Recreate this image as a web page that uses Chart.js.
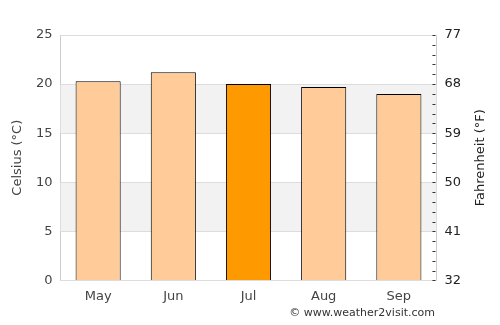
<!DOCTYPE html>
<html>
<head>
<meta charset="utf-8">
<script src="https://cdn.jsdelivr.net/npm/chart.js@4"></script>
<style>
  html, body { margin: 0; padding: 0; background: #fff; }
  #wrap { width: 500px; height: 325px; }
</style>
</head>
<body>
<div id="wrap"><canvas id="canvas" width="500" height="325"></canvas></div>
<script>
// monthly average temperature (°C)
const months = ["May", "Jun", "Jul", "Aug", "Sep"];
const tempC = [20.3, 21.2, 20.0, 19.7, 19.0];
const barColors = ["#ffcc99", "#ffcc99", "#ff9900", "#ffcc99", "#ffcc99"];
const celsiusTicks = [0, 5, 10, 15, 20, 25];
const fahrenheitLabels = [32, 41, 50, 59, 68, 77];

const tickFont = { family: "DejaVu Sans", size: 13 };

// grey bands, inner tick marks, rotated titles, footer
const extrasPlugin = {
  id: "extras",
  beforeDatasetsDraw(chart) {
    const c = chart.ctx, area = chart.chartArea, y = chart.scales.y;
    c.save();
    c.fillStyle = "#f2f2f2";
    [[5, 10], [15, 20]].forEach(function(b) {
      const top = y.getPixelForValue(b[1]);
      const bot = y.getPixelForValue(b[0]);
      c.fillRect(area.left, top, area.right - area.left, bot - top);
    });
    c.strokeStyle = "#dddddd";
    c.lineWidth = 1;
    celsiusTicks.forEach(function(v) {
      const py = Math.round(y.getPixelForValue(v)) + 0.5;
      c.beginPath();
      c.moveTo(area.left, py);
      c.lineTo(area.right, py);
      c.stroke();
    });
    c.restore();
  },
  afterDraw(chart) {
    const c = chart.ctx, area = chart.chartArea, y2 = chart.scales.y2;
    c.save();
    // small tick marks inside the right edge
    c.strokeStyle = "#333";
    c.lineWidth = 1;
    y2.ticks.forEach(function(t) {
      const py = Math.round(y2.getPixelForValue(t.value)) + 0.5;
      c.beginPath();
      c.moveTo(area.right - 4, py);
      c.lineTo(area.right - 1, py);
      c.stroke();
    });
    const midY = (area.top + area.bottom) / 2;
    c.font = "13px 'DejaVu Sans'";
    c.textAlign = "center";
    c.textBaseline = "middle";
    c.fillStyle = "#444";
    c.save();
    c.translate(18, midY);
    c.rotate(-Math.PI / 2);
    c.fillText("Celsius (°C)", 0, 0);
    c.restore();
    c.fillStyle = "#222";
    c.save();
    c.translate(481, midY);
    c.rotate(-Math.PI / 2);
    c.fillText("Fahrenheit (°F)", 0, 0);
    c.restore();
    c.font = "11px 'DejaVu Sans'";
    c.fillStyle = "#333";
    c.textAlign = "right";
    c.fillText("\u00a9 www.weather2visit.com", 435, 313);
    c.restore();
  }
};

let ctx = canvas.getContext('2d');
let config = {
  type: 'bar',
  data: {
    labels: months,
    datasets: [{
      label: 'Celsius',
      data: tempC,
      backgroundColor: barColors,
      borderColor: '#000',
      borderWidth: 1,
      barPercentage: 0.6,
      categoryPercentage: 1.0,
      yAxisID: 'y'
    }]
  },
  options: {
    responsive: false,
    animation: false,
    layout: { padding: { top: 35, bottom: 13, left: 28, right: 31 } },
    plugins: { legend: { display: false }, tooltip: { enabled: false } },
    scales: {
      x: {
        grid: { display: false, drawTicks: false },
        border: { color: '#cccccc' },
        ticks: { color: '#444', font: tickFont, padding: 8 }
      },
      y: {
        position: 'left',
        min: 0, max: 25,
        ticks: { stepSize: 5, color: '#444', font: tickFont, padding: 8 },
        grid: { color: '#dddddd', drawTicks: false },
        border: { color: '#cccccc' }
      },
      y2: {
        position: 'right',
        min: 32, max: 77,
        afterBuildTicks(axis) {
          const t = [];
          for (let i = 0; i <= 25; i++) t.push({ value: 32 + i * 1.8 });
          axis.ticks = t;
        },
        ticks: {
          color: '#222', font: tickFont, padding: 8, autoSkip: false,
          callback: function(v) {
            const r = Math.round(v);
            return fahrenheitLabels.indexOf(r) >= 0 && Math.abs(v - r) < 0.01 ? String(r) : '';
          }
        },
        grid: { display: false, drawTicks: false },
        border: { color: '#cccccc' }
      }
    }
  },
  plugins: [extrasPlugin]
};

let chart = new Chart(ctx, config);
</script>
</body>
</html>
